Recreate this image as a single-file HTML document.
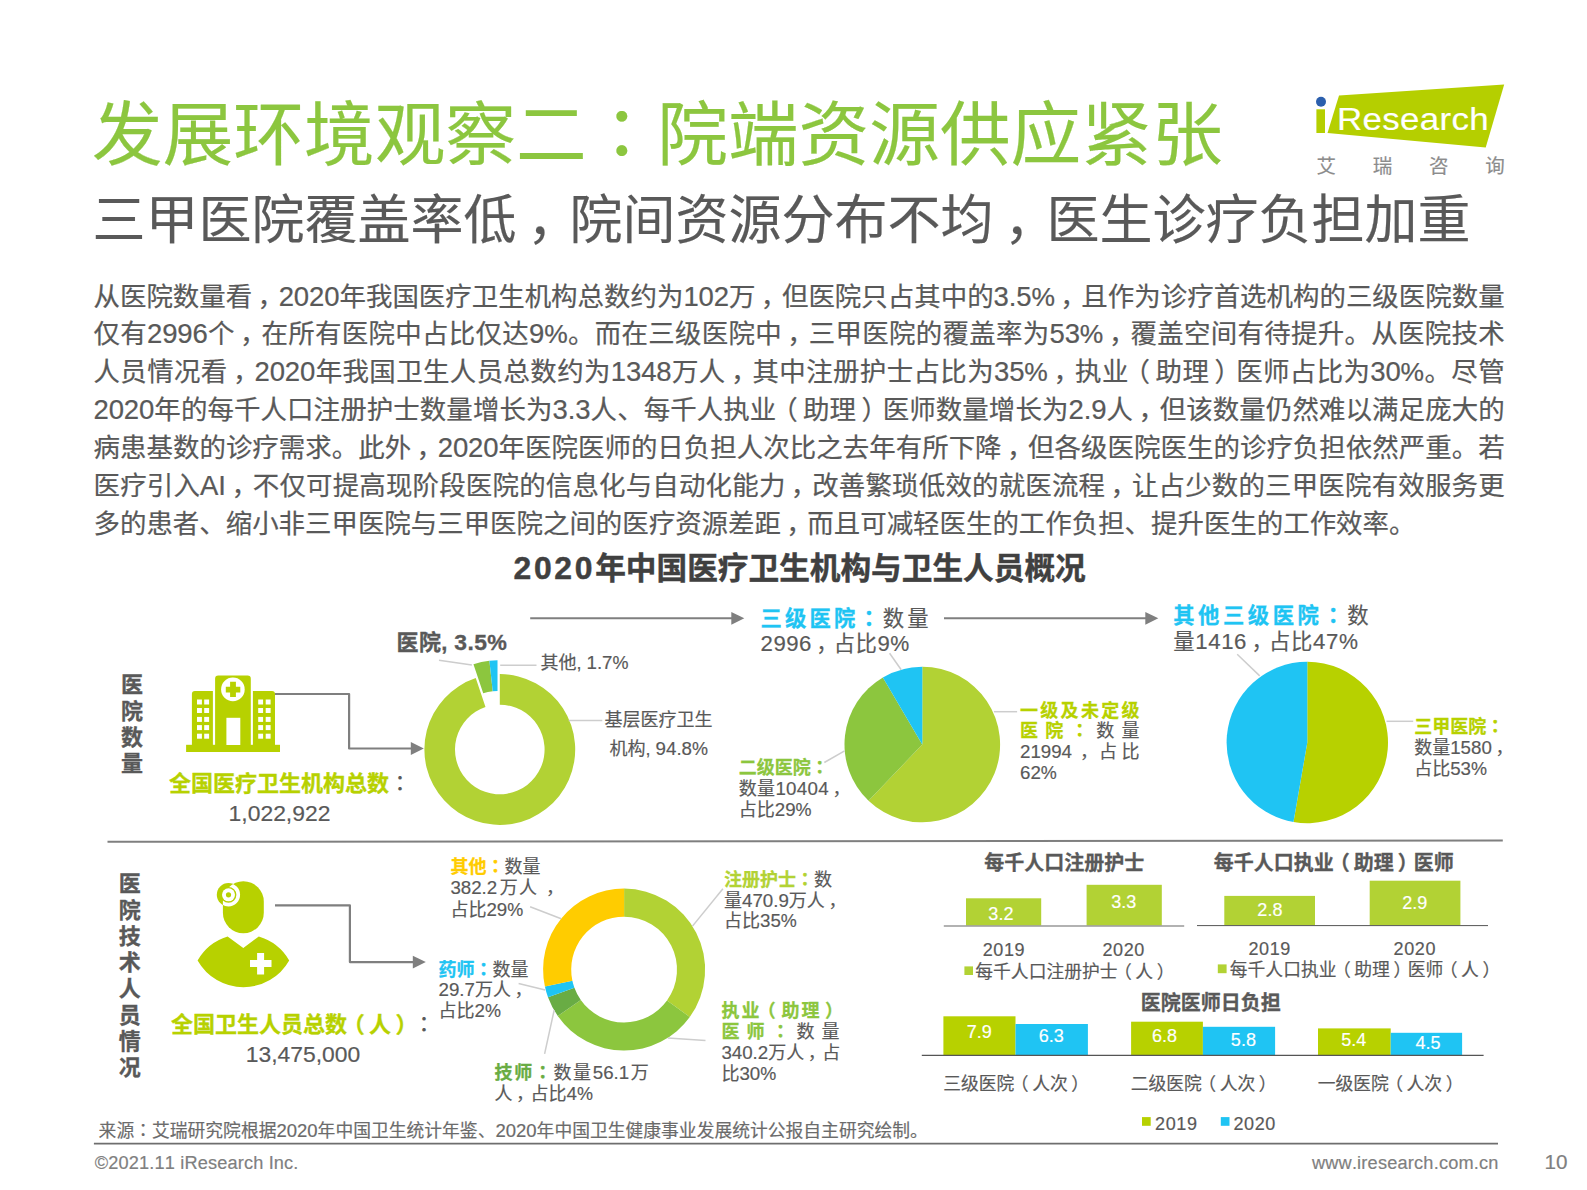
<!DOCTYPE html>
<html lang="zh-CN"><head><meta charset="utf-8"><title>发展环境观察二：院端资源供应紧张</title>
<style>
html,body{margin:0;padding:0;background:#fff}
body{width:1587px;height:1190px;position:relative;overflow:hidden;font-family:"Liberation Sans","Noto Sans CJK SC",sans-serif;color:#595959;text-spacing-trim:space-all;font-kerning:none}
svg{position:absolute;left:0;top:0}
.t{position:absolute;white-space:nowrap;margin:0;padding:0;-webkit-text-stroke:0.18px}
.b{font-weight:700;-webkit-text-stroke:0.015em}
.n{font-size:104%;line-height:0}
.pl{position:relative;left:-0.2em}
.pr{position:relative;left:0.2em}
.m{position:relative;left:0.2em}
.c{font-family:"Liberation Sans","Noto Sans CJK JP",sans-serif}
</style></head><body>
<svg width="1587" height="1190" viewBox="0 0 1587 1190">
<polygon points="1339,95.4 1504.2,84.4 1485.7,147.4 1327.5,133.1" fill="#b5cf00"/>
<rect x="1316.4" y="109.3" width="8.6" height="23.7" fill="#b5cf00"/>
<circle cx="1321" cy="101.8" r="5" fill="#2b5fad"/>
<line x1="530.2" y1="618.3" x2="732.3" y2="618.3" stroke="#7f7f7f" stroke-width="2"/>
<polygon points="731.3,611.9 744.3,618.3 731.3,624.6999999999999" fill="#7f7f7f"/>
<line x1="944" y1="618.3" x2="1146.3" y2="618.3" stroke="#7f7f7f" stroke-width="2"/>
<polygon points="1145.3,611.9 1158.3,618.3 1145.3,624.6999999999999" fill="#7f7f7f"/>
<polyline points="275,694 349.1,694 349.1,748.5 411.8,748.5" fill="none" stroke="#7f7f7f" stroke-width="2.2" stroke-linejoin="round"/>
<polygon points="410.8,742.1 423.8,748.5 410.8,754.9" fill="#7f7f7f"/>
<polyline points="275,905.4 349.9,905.4 349.9,962.1 413.8,962.1" fill="none" stroke="#7f7f7f" stroke-width="2.2" stroke-linejoin="round"/>
<polygon points="412.8,955.7 425.8,962.1 412.8,968.5" fill="#7f7f7f"/>
<line x1="107.5" y1="841.8" x2="1502.8" y2="840.4" stroke="#7f7f7f" stroke-width="2"/>
<line x1="93.9" y1="1143.6" x2="1498" y2="1143.6" stroke="#6e6e6e" stroke-width="1.6"/>
<g fill="#b7d100"><rect x="186.1" y="744.8" width="93.9" height="7.2"/><path d="M191.9,746V693.9a3,3 0 0 1 3,-3h18V746Z"/><path d="M252.9,746V690.9h19.1a3,3 0 0 1 3,3V746Z"/><path d="M215.1,746V678.7a3.2,3.2 0 0 1 3.2,-3.2h29.3a3.2,3.2 0 0 1 3.2,3.2V746Z"/></g>
<g fill="#fff"><rect x="197" y="699.5" width="4.9" height="5"/><rect x="197" y="708" width="4.9" height="5"/><rect x="197" y="716.9" width="4.9" height="5"/><rect x="197" y="725.1" width="4.9" height="5"/><rect x="197" y="733.7" width="4.9" height="5"/><rect x="204.2" y="699.5" width="4.9" height="5"/><rect x="204.2" y="708" width="4.9" height="5"/><rect x="204.2" y="716.9" width="4.9" height="5"/><rect x="204.2" y="725.1" width="4.9" height="5"/><rect x="204.2" y="733.7" width="4.9" height="5"/><rect x="258.2" y="699.5" width="4.9" height="5"/><rect x="258.2" y="708" width="4.9" height="5"/><rect x="258.2" y="716.9" width="4.9" height="5"/><rect x="258.2" y="725.1" width="4.9" height="5"/><rect x="258.2" y="733.7" width="4.9" height="5"/><rect x="265.7" y="699.5" width="4.9" height="5"/><rect x="265.7" y="708" width="4.9" height="5"/><rect x="265.7" y="716.9" width="4.9" height="5"/><rect x="265.7" y="725.1" width="4.9" height="5"/><rect x="265.7" y="733.7" width="4.9" height="5"/><rect x="226.4" y="717.8" width="13.9" height="27.2"/><circle cx="232.9" cy="689.4" r="11.8"/></g>
<path d="M230.1,681.8h5.8v4.9h4.4v5.9h-4.4v4.5h-5.8v-4.5h-4.3v-5.9h4.3Z" fill="#b7d100"/>
<rect x="222.9" y="881.2" width="40.9" height="52" rx="20.4" ry="20.4" fill="#b7d100"/>
<circle cx="228.5" cy="894.8" r="11.7" fill="#b7d100"/>
<clipPath id="hd"><rect x="222.9" y="881.2" width="40.9" height="52" rx="20.4" ry="20.4"/></clipPath>
<circle cx="228.5" cy="894.8" r="9.75" fill="none" stroke="#fff" stroke-width="3.7" clip-path="url(#hd)"/>
<circle cx="228.5" cy="894.8" r="6.5" fill="#fff"/>
<circle cx="228.5" cy="894.8" r="2.6" fill="#b7d100"/>
<path d="M197.6,960.4A52.6,52.6 0 0 1 227.6,936.5L243.3,948L258.8,936.5A52.6,52.6 0 0 1 289.2,960.4A52.6,52.6 0 0 1 197.6,960.4Z" fill="#b7d100"/>
<path d="M257.1,952.9h7v7.1h7.4v7.1h-7.4v7.3h-7v-7.3h-7.1v-7.1h7.1Z" fill="#fff"/>
<path d="M499.80,674.10A75.4,75.4 0 1 1 475.74,678.04L485.50,707.04A44.8,44.8 0 1 0 499.80,704.70Z" fill="#b2d234"/>
<path d="M473.45,664.23A75.4,75.4 0 0 1 489.42,660.72L492.71,691.15A44.8,44.8 0 0 0 483.22,693.23Z" fill="#8cc63e"/>
<path d="M489.42,660.72A75.4,75.4 0 0 1 497.51,660.29L497.51,690.89A44.8,44.8 0 0 0 492.71,691.15Z" fill="#1fc4f3"/>
<polyline points="439,660.3 471.9,664.9" fill="none" stroke="#cdcdcd" stroke-width="1.5"/>
<polyline points="500.2,665.3 536.5,665.3" fill="none" stroke="#cdcdcd" stroke-width="1.5"/>
<polyline points="568.7,720.4 602.3,720.4" fill="none" stroke="#cdcdcd" stroke-width="1.5"/>
<path d="M922.30,744.50L922.30,666.70A77.8,77.8 0 1 1 868.55,800.75Z" fill="#b2d234"/>
<path d="M922.30,744.50L868.55,800.75A77.8,77.8 0 0 1 882.85,677.44Z" fill="#8cc63e"/>
<path d="M922.30,744.50L882.85,677.44A77.8,77.8 0 0 1 922.30,666.70Z" fill="#1fc4f3"/>
<polyline points="889.6,653.2 901.2,669.7" fill="none" stroke="#cdcdcd" stroke-width="1.5"/>
<polyline points="824.3,762.5 844.6,750.9" fill="none" stroke="#cdcdcd" stroke-width="1.5"/>
<polyline points="993.9,711.7 1017.1,711.7" fill="none" stroke="#cdcdcd" stroke-width="1.5"/>
<path d="M1307.30,742.50L1307.30,661.80A80.7,80.7 0 1 1 1293.49,822.01Z" fill="#b7d100"/>
<path d="M1307.30,742.50L1293.49,822.01A80.7,80.7 0 0 1 1307.30,661.80Z" fill="#1fc4f3"/>
<polyline points="1237.2,654.2 1259.7,675.9" fill="none" stroke="#cdcdcd" stroke-width="1.5"/>
<polyline points="1386.5,721.3 1413.2,721.3" fill="none" stroke="#cdcdcd" stroke-width="1.5"/>
<path d="M624.10,888.60A81.0,81.0 0 0 1 689.80,1016.98L667.01,1000.54A52.9,52.9 0 0 0 624.10,916.70Z" fill="#b2d234"/>
<path d="M689.80,1016.98A81.0,81.0 0 0 1 557.77,1016.09L580.78,999.96A52.9,52.9 0 0 0 667.01,1000.54Z" fill="#8cc63e"/>
<path d="M557.77,1016.09A81.0,81.0 0 0 1 548.00,997.36L574.40,987.73A52.9,52.9 0 0 0 580.78,999.96Z" fill="#69ac44"/>
<path d="M548.00,997.36A81.0,81.0 0 0 1 544.90,986.58L572.38,980.69A52.9,52.9 0 0 0 574.40,987.73Z" fill="#1fc4f3"/>
<path d="M544.90,986.58A81.0,81.0 0 0 1 624.10,888.60L624.10,916.70A52.9,52.9 0 0 0 572.38,980.69Z" fill="#ffcc00"/>
<polyline points="530.1,906.7 561.2,918.8" fill="none" stroke="#cdcdcd" stroke-width="1.5"/>
<polyline points="518.6,983.5 545.2,989.9" fill="none" stroke="#cdcdcd" stroke-width="1.5"/>
<polyline points="554.2,1010 544.6,1053.9" fill="none" stroke="#cdcdcd" stroke-width="1.5"/>
<polyline points="722.9,888.7 692.5,926.1" fill="none" stroke="#cdcdcd" stroke-width="1.5"/>
<polyline points="667.8,1038 705.5,1040.6" fill="none" stroke="#cdcdcd" stroke-width="1.5"/>
<rect x="966" y="898.3" width="75.2" height="27.4" fill="#b2d234"/>
<rect x="1086.6" y="884.8" width="75.2" height="40.9" fill="#b2d234"/>
<line x1="943.8" y1="926" x2="1184.2" y2="926" stroke="#999" stroke-width="1.4"/>
<rect x="964.4" y="966.4" width="8.6" height="8.6" fill="#b2d234"/>
<rect x="1224.3" y="895.9" width="90.7" height="29.4" fill="#b2d234"/>
<rect x="1369.7" y="880.7" width="90.7" height="44.6" fill="#b2d234"/>
<line x1="1197" y1="925.6" x2="1488" y2="925.6" stroke="#555" stroke-width="1"/>
<rect x="1217.8" y="964.4" width="8.8" height="8.8" fill="#b2d234"/>
<rect x="943.4" y="1016.3" width="72.1" height="38.7" fill="#b7d100"/>
<rect x="1015.5" y="1024" width="72.4" height="31.0" fill="#1fc4f3"/>
<rect x="1131.1" y="1021.7" width="71.8" height="33.3" fill="#b7d100"/>
<rect x="1202.9" y="1026.8" width="72.2" height="28.2" fill="#1fc4f3"/>
<rect x="1318" y="1028.4" width="72.7" height="26.6" fill="#b7d100"/>
<rect x="1390.7" y="1032.8" width="71.4" height="22.2" fill="#1fc4f3"/>
<line x1="921.8" y1="1055.3" x2="1483.6" y2="1055.3" stroke="#555" stroke-width="1.2"/>
<rect x="1142" y="1117.1" width="8.7" height="8.7" fill="#b7d100"/>
<rect x="1220.8" y="1117.1" width="8.7" height="8.7" fill="#1fc4f3"/>
</svg>
<div class="t" style="top:90.00px;font-size:70.67px;line-height:91.87px;color:#8cc63f;left:92px;">发展环境观察二<span class="c" lang="ja">：</span>院端资源供应紧张</div>
<div class="t" style="top:187.00px;font-size:53.0px;line-height:68.9px;color:#595959;left:92.5px;">三甲医院覆盖率低<span class="m">，</span>院间资源分布不均<span class="m">，</span>医生诊疗负担加重</div>
<div class="t" style="top:99.00px;font-size:32px;line-height:41.6px;color:#fff;letter-spacing:0.3px;left:1337.2px;transform:scaleX(1.09);transform-origin:0 0;">Research</div>
<div class="t" style="top:154.00px;font-size:19.5px;line-height:25.35px;color:#8c8c8c;letter-spacing:36.7px;left:1316.6px;">艾瑞咨询</div>
<div class="t" style="left:93.5px;top:278px;font-size:26.45px;line-height:38px;color:#595959;-webkit-text-stroke:0.22px;"><span style="display:block;height:37px;width:1411px;text-align:justify;text-align-last:justify;letter-spacing:-0.15px;">从医院数量看<span class="m">，</span><span class="n">2020</span>年我国医疗卫生机构总数约为<span class="n">102</span>万<span class="m">，</span>但医院只占其中的<span class="n">3.5</span>%<span class="m">，</span>且作为诊疗首选机构的三级医院数量</span><span style="display:block;height:38px;width:1411px;text-align:justify;text-align-last:justify;letter-spacing:-0.15px;">仅有<span class="n">2996</span>个<span class="m">，</span>在所有医院中占比仅达<span class="n">9</span>%。而在三级医院中<span class="m">，</span>三甲医院的覆盖率为<span class="n">53</span>%<span class="m">，</span>覆盖空间有待提升。从医院技术</span><span style="display:block;height:38px;width:1411px;text-align:justify;text-align-last:justify;letter-spacing:-0.15px;">人员情况看<span class="m">，</span><span class="n">2020</span>年我国卫生人员总数约为<span class="n">1348</span>万人<span class="m">，</span>其中注册护士占比为<span class="n">35</span>%<span class="m">，</span>执业<span class="pl">（</span>助理<span class="pr">）</span>医师占比为<span class="n">30</span>%。尽管</span><span style="display:block;height:38px;width:1411px;text-align:justify;text-align-last:justify;letter-spacing:-0.15px;"><span class="n">2020</span>年的每千人口注册护士数量增长为<span class="n">3.3</span>人、每千人执业<span class="pl">（</span>助理<span class="pr">）</span>医师数量增长为<span class="n">2.9</span>人<span class="m">，</span>但该数量仍然难以满足庞大的</span><span style="display:block;height:38px;width:1411px;text-align:justify;text-align-last:justify;letter-spacing:-0.15px;">病患基数的诊疗需求。此外<span class="m">，</span><span class="n">2020</span>年医院医师的日负担人次比之去年有所下降<span class="m">，</span>但各级医院医生的诊疗负担依然严重。若</span><span style="display:block;height:38px;width:1411px;text-align:justify;text-align-last:justify;letter-spacing:-0.15px;">医疗引入<span class="n">AI</span><span class="m">，</span>不仅可提高现阶段医院的信息化与自动化能力<span class="m">，</span>改善繁琐低效的就医流程<span class="m">，</span>让占少数的三甲医院有效服务更</span><span style="display:block;height:38px;">多的患者、缩小非三甲医院与三甲医院之间的医疗资源差距<span class="m">，</span>而且可减轻医生的工作负担、提升医生的工作效率。</span></div>
<div class="t" style="top:549.00px;font-size:30.67px;line-height:39.87px;color:#404040;font-weight:700;-webkit-text-stroke:0.015em;left:449.6px;width:700px;text-align:center;"><span style="letter-spacing:2.7px"><span class="n">2020</span></span>年中国医疗卫生机构与卫生人员概况</div>
<div class="t" style="left:121px;top:671px;font-size:22px;line-height:27px;font-weight:700;-webkit-text-stroke:0.015em"><span style="display:block;height:27px">医</span><span style="display:block;height:26px">院</span><span style="display:block;height:26px">数</span><span style="display:block;height:27px">量</span></div>
<div class="t" style="left:118.8px;top:870px;font-size:22px;line-height:27px;font-weight:700;-webkit-text-stroke:0.015em"><span style="display:block;height:27px">医</span><span style="display:block;height:26px">院</span><span style="display:block;height:26px">技</span><span style="display:block;height:26px">术</span><span style="display:block;height:27px">人</span><span style="display:block;height:26px">员</span><span style="display:block;height:26px">情</span><span style="display:block;height:27px">况</span></div>
<div class="t" style="top:770.00px;font-size:22px;line-height:28.6px;color:#595959;left:169px;"><span class="b" style="color:#b7d100">全国医疗卫生机构总数</span><span class="c" lang="ja">：</span></div>
<div class="t" style="top:800.00px;font-size:22px;line-height:28.6px;color:#595959;left:179.5px;width:200px;text-align:center;"><span class="n">1,022,922</span></div>
<div class="t" style="top:1011.00px;font-size:22px;line-height:28.6px;color:#595959;left:171px;"><span class="b" style="color:#b7d100">全国卫生人员总数<span class="pl">（</span>人<span class="pr">）</span></span><span class="c" lang="ja">：</span></div>
<div class="t" style="top:1041.00px;font-size:22px;line-height:28.6px;color:#595959;left:203.0px;width:200px;text-align:center;"><span class="n">13,475,000</span></div>
<div class="t" style="top:629.00px;font-size:22px;line-height:28.6px;color:#595959;font-weight:700;-webkit-text-stroke:0.015em;letter-spacing:0.4px;left:396.5px;">医院, <span class="n">3.5</span>%</div>
<div class="t" style="top:652.00px;font-size:18px;line-height:23.4px;color:#595959;left:540.5px;">其他, <span class="n">1.7</span>%</div>
<div class="t" style="top:709.00px;font-size:18px;line-height:23.4px;color:#595959;left:558.5px;width:200px;text-align:center;">基层医疗卫生</div>
<div class="t" style="top:738.00px;font-size:18px;line-height:23.4px;color:#595959;left:558.8px;width:200px;text-align:center;">机构, <span class="n">94.8</span>%</div>
<div class="t" style="left:760.6px;top:607px;font-size:21.33px;line-height:25px;color:#595959;"><span style="display:block;height:25px;width:168px;text-align:justify;text-align-last:justify;"><span class="b" style="color:#1fc4f3">三级医院<span class="c" lang="ja">：</span></span>数量</span><span style="display:block;height:25px;letter-spacing:0.5px;"><span class="n">2996</span><span class="m">，</span>占比<span class="n">9</span>%</span></div>
<div class="t" style="left:738.8px;top:758px;font-size:18px;line-height:21px;color:#595959;"><span style="display:block;height:21px;"><span class="b" style="color:#8cc63e">二级医院<span class="c" lang="ja">：</span></span></span><span style="display:block;height:21px;letter-spacing:0.3px;">数量<span class="n">10404</span><span class="m">，</span></span><span style="display:block;height:21px;">占比<span class="n">29</span>%</span></div>
<div class="t" style="left:1020px;top:701px;font-size:18px;line-height:21px;color:#595959;"><span style="display:block;height:20px;width:119.5px;text-align:justify;text-align-last:justify;"><span class="b" style="color:#b7d100">一级及未定级</span></span><span style="display:block;height:21px;width:119.5px;text-align:justify;text-align-last:justify;"><span class="b" style="color:#b7d100">医院<span class="c" lang="ja">：</span></span>数量</span><span style="display:block;height:21px;width:119.5px;text-align:justify;text-align-last:justify;"><span class="n">21994</span><span class="m">，</span>占比</span><span style="display:block;height:21px;"><span class="n">62</span>%</span></div>
<div class="t" style="left:1173.2px;top:603px;font-size:21.33px;line-height:26px;color:#595959;"><span style="display:block;height:26px;width:195.5px;text-align:justify;text-align-last:justify;"><span class="b" style="color:#1fc4f3">其他三级医院<span class="c" lang="ja">：</span></span>数</span><span style="display:block;height:26px;letter-spacing:0.65px;">量<span class="n">1416</span><span class="m">，</span>占比<span class="n">47</span>%</span></div>
<div class="t" style="left:1414.2px;top:717px;font-size:18px;line-height:21px;color:#595959;"><span style="display:block;height:21px;"><span class="b" style="color:#b7d100">三甲医院<span class="c" lang="ja">：</span></span></span><span style="display:block;height:21px;">数量<span class="n">1580</span><span class="m">，</span></span><span style="display:block;height:21px;">占比<span class="n">53</span>%</span></div>
<div class="t" style="left:450.4px;top:857px;font-size:18px;line-height:21px;color:#595959;"><span style="display:block;height:21px;"><span class="b" style="color:#ffcc00">其他<span class="c" lang="ja">：</span></span>数量</span><span style="display:block;height:22px;width:86.5px;text-align:justify;text-align-last:justify;"><span class="n">382.2</span><span style="margin-left:1.5px">万</span>人<span style="position:absolute;margin-left:0.3em"><span class="m">，</span></span></span><span style="display:block;height:21px;">占比<span class="n">29</span>%</span></div>
<div class="t" style="left:438.5px;top:960px;font-size:18px;line-height:21px;color:#595959;"><span style="display:block;height:20px;"><span class="b" style="color:#1fc4f3">药师<span class="c" lang="ja">：</span></span>数量</span><span style="display:block;height:21px;"><span class="n">29.7</span>万人<span class="m">，</span></span><span style="display:block;height:21px;">占比<span class="n">2</span>%</span></div>
<div class="t" style="left:494.5px;top:1063px;font-size:18px;line-height:21px;color:#595959;"><span style="display:block;height:21px;width:154.3px;text-align:justify;text-align-last:justify;"><span class="b" style="color:#69ac44">技师<span class="c" lang="ja">：</span></span>数量<span class="n">56.1</span>万</span><span style="display:block;height:21px;">人<span class="m">，</span>占比<span class="n">4</span>%</span></div>
<div class="t" style="left:724px;top:870px;font-size:18px;line-height:21px;color:#595959;"><span style="display:block;height:21px;"><span class="b" style="color:#b2d234">注册护士<span class="c" lang="ja">：</span></span>数</span><span style="display:block;height:20px;">量<span class="n">470.9</span>万人<span class="m">，</span></span><span style="display:block;height:21px;">占比<span class="n">35</span>%</span></div>
<div class="t" style="left:721.4px;top:1001px;font-size:18px;line-height:21px;color:#595959;"><span style="display:block;height:21px;width:118px;text-align:justify;text-align-last:justify;"><span class="b" style="color:#8cc63e">执业<span class="pl">（</span>助理<span class="pr">）</span></span></span><span style="display:block;height:21px;width:118px;text-align:justify;text-align-last:justify;"><span class="b" style="color:#8cc63e">医师<span class="c" lang="ja">：</span></span>数量</span><span style="display:block;height:21px;width:118px;text-align:justify;text-align-last:justify;"><span class="n">340.2</span>万人<span class="m">，</span>占</span><span style="display:block;height:21px;">比<span class="n">30</span>%</span></div>
<div class="t" style="top:850.00px;font-size:20px;line-height:26.0px;color:#595959;font-weight:700;-webkit-text-stroke:0.015em;left:914.3px;width:300px;text-align:center;">每千人口注册护士</div>
<div class="t" style="top:903.00px;font-size:17.33px;line-height:22.53px;color:#fff;left:960.9px;width:80px;text-align:center;"><span class="n">3.2</span></div>
<div class="t" style="top:891.00px;font-size:17.33px;line-height:22.53px;color:#fff;left:1083.7px;width:80px;text-align:center;"><span class="n">3.3</span></div>
<div class="t" style="top:939.00px;font-size:17.33px;line-height:22.53px;color:#595959;letter-spacing:0.6px;left:963.9px;width:80px;text-align:center;"><span class="n">2019</span></div>
<div class="t" style="top:939.00px;font-size:17.33px;line-height:22.53px;color:#595959;letter-spacing:0.6px;left:1083.7px;width:80px;text-align:center;"><span class="n">2020</span></div>
<div class="t" style="top:961.00px;font-size:17.8px;line-height:23.14px;color:#595959;left:975.3px;">每千人口注册护士<span class="pl">（</span>人<span class="pr">）</span></div>
<div class="t" style="top:850.00px;font-size:20px;line-height:26.0px;color:#595959;font-weight:700;-webkit-text-stroke:0.015em;left:1183.7px;width:300px;text-align:center;">每千人口执业<span class="pl">（</span>助理<span class="pr">）</span>医师</div>
<div class="t" style="top:899.00px;font-size:17.33px;line-height:22.53px;color:#fff;left:1229.9px;width:80px;text-align:center;"><span class="n">2.8</span></div>
<div class="t" style="top:892.00px;font-size:17.33px;line-height:22.53px;color:#fff;left:1374.8px;width:80px;text-align:center;"><span class="n">2.9</span></div>
<div class="t" style="top:938.00px;font-size:17.33px;line-height:22.53px;color:#595959;letter-spacing:0.6px;left:1229.7px;width:80px;text-align:center;"><span class="n">2019</span></div>
<div class="t" style="top:938.00px;font-size:17.33px;line-height:22.53px;color:#595959;letter-spacing:0.6px;left:1374.8px;width:80px;text-align:center;"><span class="n">2020</span></div>
<div class="t" style="top:959.00px;font-size:17.8px;line-height:23.14px;color:#595959;left:1229.8px;">每千人口执业<span class="pl">（</span>助理<span class="pr">）</span>医师<span class="pl">（</span>人<span class="pr">）</span></div>
<div class="t" style="top:990.00px;font-size:20px;line-height:26.0px;color:#595959;font-weight:700;-webkit-text-stroke:0.015em;left:1060.8px;width:300px;text-align:center;">医院医师日负担</div>
<div class="t" style="top:1021.00px;font-size:17.33px;line-height:22.53px;color:#fff;left:944.2px;width:70px;text-align:center;"><span class="n">7.9</span></div>
<div class="t" style="top:1025.00px;font-size:17.33px;line-height:22.53px;color:#fff;left:1016.2px;width:70px;text-align:center;"><span class="n">6.3</span></div>
<div class="t" style="top:1025.00px;font-size:17.33px;line-height:22.53px;color:#fff;left:1129.6px;width:70px;text-align:center;"><span class="n">6.8</span></div>
<div class="t" style="top:1029.00px;font-size:17.33px;line-height:22.53px;color:#fff;left:1208.4px;width:70px;text-align:center;"><span class="n">5.8</span></div>
<div class="t" style="top:1029.00px;font-size:17.33px;line-height:22.53px;color:#fff;left:1318.7px;width:70px;text-align:center;"><span class="n">5.4</span></div>
<div class="t" style="top:1032.00px;font-size:17.33px;line-height:22.53px;color:#fff;left:1393.0px;width:70px;text-align:center;"><span class="n">4.5</span></div>
<div class="t" style="top:1073.00px;font-size:17.8px;line-height:23.14px;color:#595959;left:914.4px;width:200px;text-align:center;">三级医院<span class="pl">（</span>人次<span class="pr">）</span></div>
<div class="t" style="top:1073.00px;font-size:17.8px;line-height:23.14px;color:#595959;left:1101.9px;width:200px;text-align:center;">二级医院<span class="pl">（</span>人次<span class="pr">）</span></div>
<div class="t" style="top:1073.00px;font-size:17.8px;line-height:23.14px;color:#595959;left:1288.8px;width:200px;text-align:center;">一级医院<span class="pl">（</span>人次<span class="pr">）</span></div>
<div class="t" style="top:1113.00px;font-size:17.33px;line-height:22.53px;color:#595959;letter-spacing:0.6px;left:1155.1px;"><span class="n">2019</span></div>
<div class="t" style="top:1113.00px;font-size:17.33px;line-height:22.53px;color:#595959;letter-spacing:0.6px;left:1233.5px;"><span class="n">2020</span></div>
<div class="t" style="top:1120.00px;font-size:17.8px;line-height:23.14px;color:#6b6b6b;left:98.6px;">来源<span class="c" lang="ja">：</span>艾瑞研究院根据<span class="n">2020</span>年中国卫生统计年鉴、<span class="n">2020</span>年中国卫生健康事业发展统计公报自主研究绘制。</div>
<div class="t" style="top:1152.00px;font-size:18.18px;line-height:23.63px;color:#808080;letter-spacing:0.15px;left:94.8px;">©2021.11 iResearch Inc.</div>
<div class="t" style="top:1152.00px;font-size:18.18px;line-height:23.63px;color:#808080;letter-spacing:0.2px;left:1198.7px;width:300px;text-align:right;">www.iresearch.com.cn</div>
<div class="t" style="top:1149.00px;font-size:20.7px;line-height:26.91px;color:#808080;left:1507.6px;width:60px;text-align:right;">10</div>
</body></html>
